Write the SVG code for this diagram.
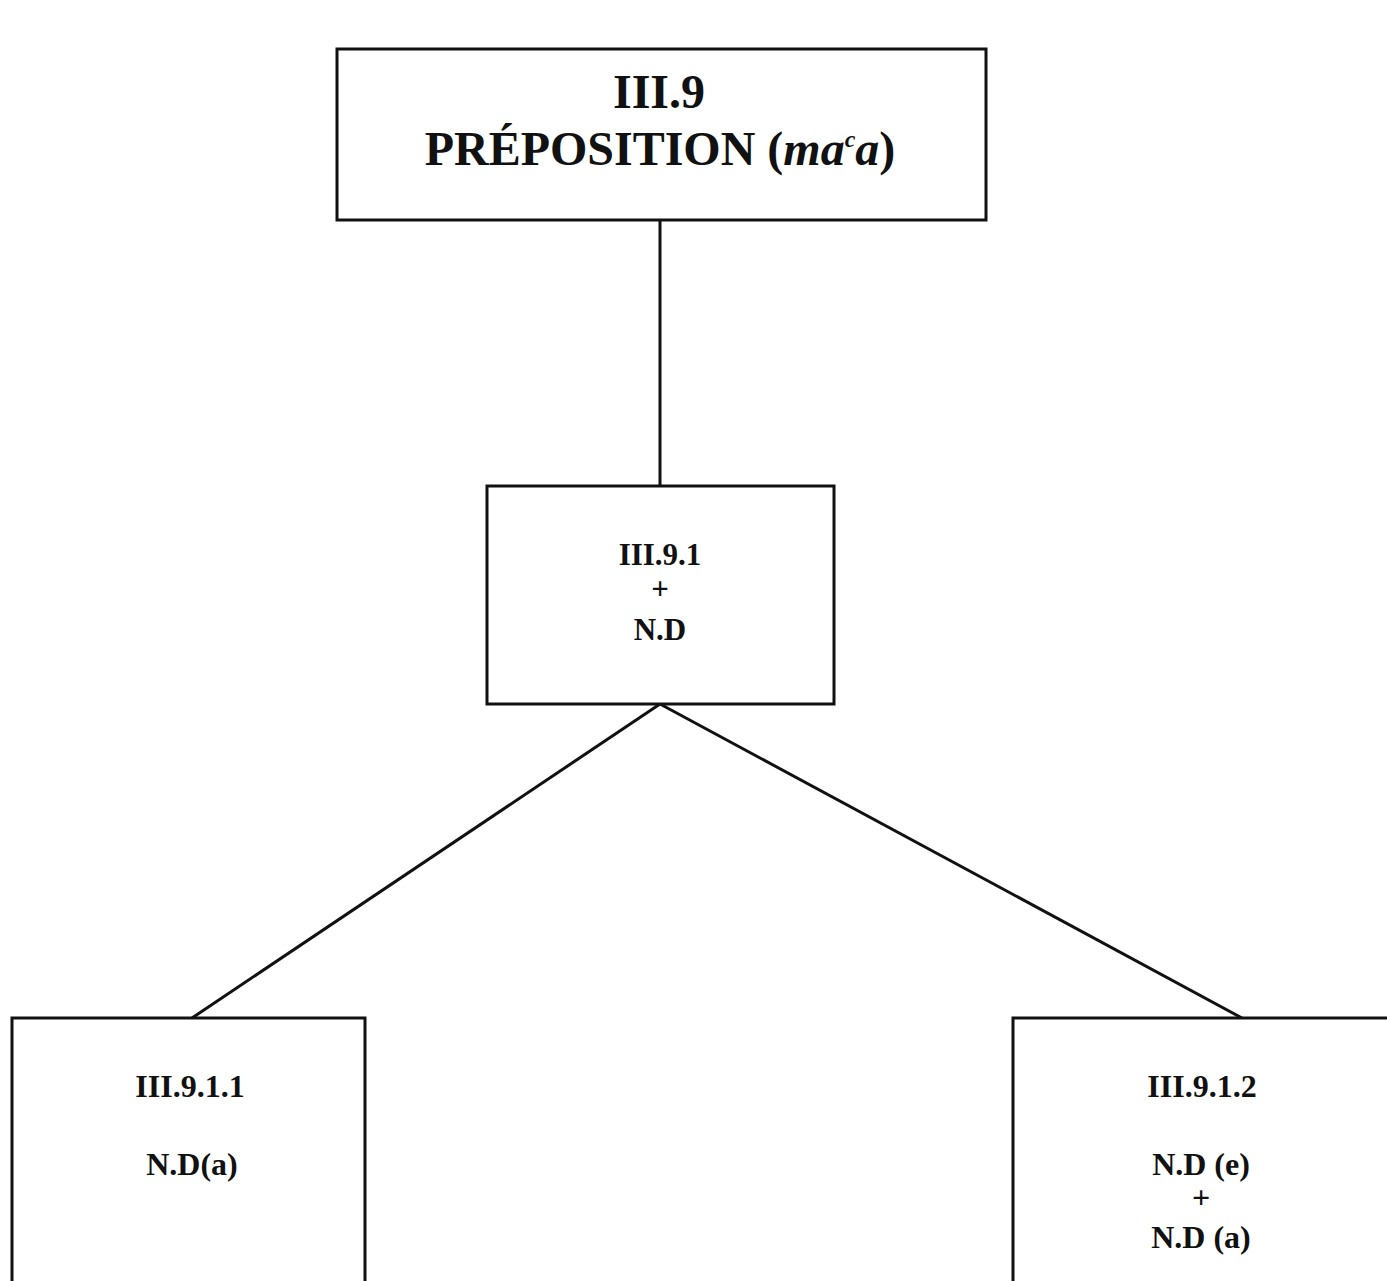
<svg xmlns="http://www.w3.org/2000/svg" width="1387" height="1281" viewBox="0 0 1387 1281">
  <style>
    .box { fill: #ffffff; stroke: #111111; stroke-width: 3; }
    .edge { stroke: #111111; stroke-width: 3; fill: none; }
    .t { font-family: "Liberation Serif", "Times New Roman", serif; font-weight: bold; fill: #111111; text-anchor: middle; }
    .big { font-size: 48px; }
    .mid { font-size: 31px; }
    .low { font-size: 32px; }
  </style>
  <rect width="1387" height="1281" fill="#ffffff"/>

  <!-- connectors -->
  <g id="connectors">
    <line class="edge" x1="660" y1="220" x2="660" y2="486"/>
    <line class="edge" x1="660" y1="704" x2="192" y2="1018"/>
    <line class="edge" x1="660" y1="704" x2="1242" y2="1018"/>
  </g>

  <!-- root -->
  <g id="n-III9">
    <rect class="box" x="337" y="49" width="649" height="171"/>
    <text class="t big" x="659" y="108">III.9</text>
    <text class="t big" x="660" y="165">PRÉPOSITION (<tspan font-style="italic">ma<tspan font-size="24" dy="-18">c</tspan><tspan dy="18">a</tspan></tspan>)</text>
  </g>

  <!-- level 1 -->
  <g id="n-III91">
    <rect class="box" x="487" y="486" width="347" height="218"/>
    <text class="t mid" x="660" y="565">III.9.1</text>
    <text class="t mid" x="660" y="599">+</text>
    <text class="t mid" x="660" y="640">N.D</text>
  </g>

  <!-- level 2 -->
  <g id="n-III911">
    <rect class="box" x="12" y="1018" width="353" height="280"/>
    <text class="t low" x="190" y="1097">III.9.1.1</text>
    <text class="t low" x="192" y="1175">N.D(a)</text>
  </g>

  <g id="n-III912">
    <rect class="box" x="1013" y="1018" width="400" height="280"/>
    <text class="t low" x="1202" y="1097">III.9.1.2</text>
    <text class="t low" x="1201" y="1175">N.D (e)</text>
    <text class="t low" x="1201" y="1208">+</text>
    <text class="t low" x="1201" y="1248">N.D (a)</text>
  </g>
</svg>
